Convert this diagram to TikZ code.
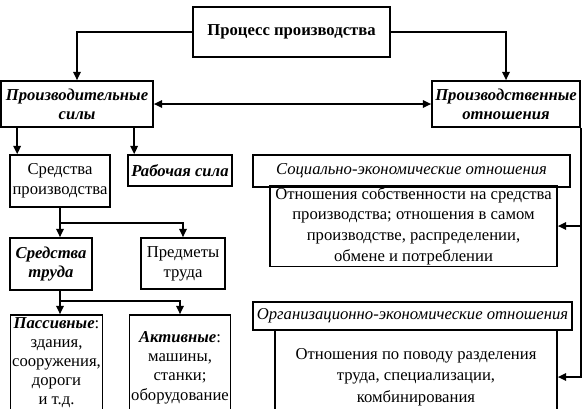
\documentclass[tikz,border=0pt]{standalone}
\usepackage{fontspec}
\setmainfont{Liberation Serif}
\usetikzlibrary{arrows.meta}

\begin{document}
\begin{tikzpicture}[x=0.6pt,y=-0.6pt,
  box/.style={draw,line width=1pt,align=center,inner sep=1pt,font=\fontsize{10}{12}\selectfont},
  bi/.style={font=\fontsize{10}{11.5}\selectfont\bfseries\itshape},
  it/.style={font=\fontsize{10}{12}\selectfont\itshape},
  ln/.style={line width=1pt},
  arr/.style={line width=1pt,-{Triangle[length=5pt,width=4.5pt]}},
  arrb/.style={line width=1pt,{Triangle[length=5pt,width=4.5pt]}-{Triangle[length=5pt,width=4.5pt]}}]
\clip (0,0) rectangle (585,408);

\node[box,minimum width=118.2pt,minimum height=30pt] (proc) at (291.5,32) {\textbf{Процесс производства}};
\node[box,bi,minimum width=91.2pt,minimum height=27.6pt] (forces) at (77,104) {Производительные\\силы};
\node[box,bi,minimum width=88.8pt,minimum height=27.6pt] (rel) at (506,104) {Производственные\\отношения};

\node[box,minimum width=60pt,minimum height=31.2pt] (sredprod) at (60,181) {Средства\\производства};
\node[box,bi,minimum width=62.4pt,minimum height=18.6pt] (rabsila) at (180,170.5) {Рабочая сила};
\node[box,bi,minimum width=49.2pt,minimum height=31.2pt] (sredtruda) at (51,264) {Средства\\труда};
\node[box,minimum width=50.4pt,minimum height=30.6pt] (predmety) at (183,263.5) {Предметы\\труда};
\node[box,font=\fontsize{10}{11.4}\selectfont,minimum width=53.4pt,minimum height=57.6pt] (passive) at (56.5,363) {\textbf{\textit{Пассивные}}:\\здания,\\сооружения,\\дороги\\и т.д.};
\node[box,font=\fontsize{10}{11.6}\selectfont,minimum width=60pt,minimum height=63pt] (active) at (180,367.5) {\textbf{\textit{Активные}}:\\машины,\\станки;\\оборудование};

\node[box,it,minimum width=190.2pt,minimum height=19.2pt] (socH) at (411.5,171) {Социально-экономические отношения};
\node[box,font=\fontsize{10}{12.4}\selectfont,minimum width=172.2pt,minimum height=46.8pt] (socC) at (413.5,226) {Отношения собственности на средства\\производства; отношения в самом\\производстве, распределении,\\обмене и потреблении};
\node[box,it,minimum width=191.4pt,minimum height=16.8pt] (orgH) at (412.5,316) {Организационно-экономические отношения};
\node[box,font=\fontsize{10}{13}\selectfont,minimum width=169.2pt,minimum height=56.4pt] (orgC) at (416,377) {Отношения по поводу разделения\\труда, специализации,\\комбинирования};

\draw[arr] (proc.west) -| (forces.north);
\draw[arr] (proc.east) -| (rel.north);
\draw[arrb] (forces.east) -- (rel.west);

\draw[arr] ([xshift=10.2pt]forces.south west) -- ([xshift=10.2pt]forces.south west |- sredprod.north);
\draw[arr] ([xshift=4.2pt]rabsila.north west |- forces.south) -- ([xshift=4.2pt]rabsila.north west);

\draw[ln] (sredprod.south) -- ++(0,15) coordinate (b1);
\draw[arr] (b1) -- (b1 |- sredtruda.north);
\draw[arr] (b1) -| (predmety.north);
\draw[ln] (b1 |- sredtruda.south) -- ++(0,10) coordinate (b2);
\draw[arr] (b2) -- (b2 |- passive.north);
\draw[arr] (b2) -| (active.north);

\draw[arr] (rel.south east) |- (orgC.east);
\draw[arr] (rel.south east |- socC.east) -- (socC.east);
\end{tikzpicture}
\end{document}
